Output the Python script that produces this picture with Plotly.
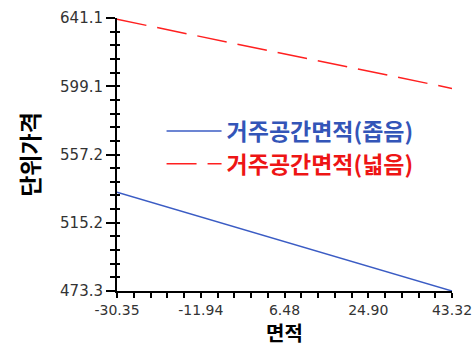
import plotly.graph_objects as go

x_vals = [-30.35, 43.32]
narrow = [534.0, 473.3]
wide = [640.3, 597.8]
names = ["거주공간면적(좁음)", "거주공간면적(넓음)"]
x_ticks = [-30.35, -11.9325, 6.485, 24.9025, 43.32]
x_ticktext = ["-30.35", "-11.94", "6.48", "24.90", "43.32"]
y_ticks = [473.3, 515.25, 557.2, 599.15, 641.1]
y_ticktext = ["473.3", "515.2", "557.2", "599.1", "641.1"]
x_minor = [-30.35 + 3.6835 * i for i in range(21)]
y_minor = [473.3 + 8.39 * i for i in range(21)]
x_title = "면적"
y_title = "단위가격"

blue = "#3b5cc4"
red = "#ff2020"

fig = go.Figure()
fig.add_trace(go.Scatter(x=x_vals, y=narrow, mode="lines",
                         name=f"<span style='color:#3355b8'><b>{names[0]}</b></span>",
                         line=dict(color=blue, width=1.5)))
fig.add_trace(go.Scatter(x=x_vals, y=wide, mode="lines",
                         name=f"<span style='color:#ee1515'><b>{names[1]}</b></span>",
                         line=dict(color=red, width=1.5, dash="30px,11px")))
# helper trace on overlay axis (invisible) so the inner tick marks are drawn
fig.add_trace(go.Scatter(x=x_vals, y=narrow, mode="lines", yaxis="y2",
                         line=dict(width=0, color="rgba(0,0,0,0)"),
                         showlegend=False, hoverinfo="skip"))

tickfont = dict(family="DejaVu Sans", size=15, color="#333333")
xtickfont = dict(family="DejaVu Sans", size=14, color="#333333")
fig.update_layout(
    width=474, height=349,
    margin=dict(l=117, r=22, t=18, b=58),
    paper_bgcolor="white", plot_bgcolor="white",
    showlegend=True,
    legend=dict(x=0.133, y=0.665, xanchor="left", yanchor="top",
                font=dict(family="Noto Sans CJK KR", size=23),
                itemwidth=55,
                bgcolor="rgba(0,0,0,0)", tracegroupgap=0),
    xaxis=dict(range=[-30.35, 43.32], tickvals=x_ticks, ticktext=x_ticktext,
               ticks="outside", ticklen=5, tickwidth=1.5, tickcolor="black",
               showline=True, linecolor="black", linewidth=2, showgrid=False, zeroline=False,
               tickfont=xtickfont, automargin=False, ticklabeloverflow="allow",
               minor=dict(tickvals=x_minor, ticks="outside", ticklen=5,
                          tickwidth=1.5, tickcolor="black", showgrid=False)),
    yaxis=dict(range=[473.3, 641.1], tickvals=y_ticks, ticktext=y_ticktext,
               ticks="outside", ticklen=9, tickwidth=1.5, tickcolor="black",
               showline=True, linecolor="black", linewidth=2, showgrid=False, zeroline=False,
               tickfont=tickfont, automargin=False,
               minor=dict(tickvals=y_minor, ticks="outside", ticklen=5,
                          tickwidth=1.5, tickcolor="black", showgrid=False),
               title=dict(text=f"<b>{y_title}</b>", font=dict(family="Noto Sans CJK KR", size=23, color="black"),
                          standoff=14)),
    yaxis2=dict(range=[473.3, 641.1], overlaying="y", side="left", anchor="x",
                tickvals=y_minor, showticklabels=False, automargin=False,
                ticks="inside", ticklen=3, tickwidth=1.5, tickcolor="black",
                showgrid=False, zeroline=False, showline=False),
    annotations=[dict(text=f"<b>{x_title}</b>", xref="paper", yref="paper",
                      x=0.5, y=-0.2088, xanchor="center", yanchor="bottom", showarrow=False,
                      borderpad=0,
                      font=dict(family="Noto Sans CJK KR", size=20, color="black"))],
)

fig.write_html("out.html")
